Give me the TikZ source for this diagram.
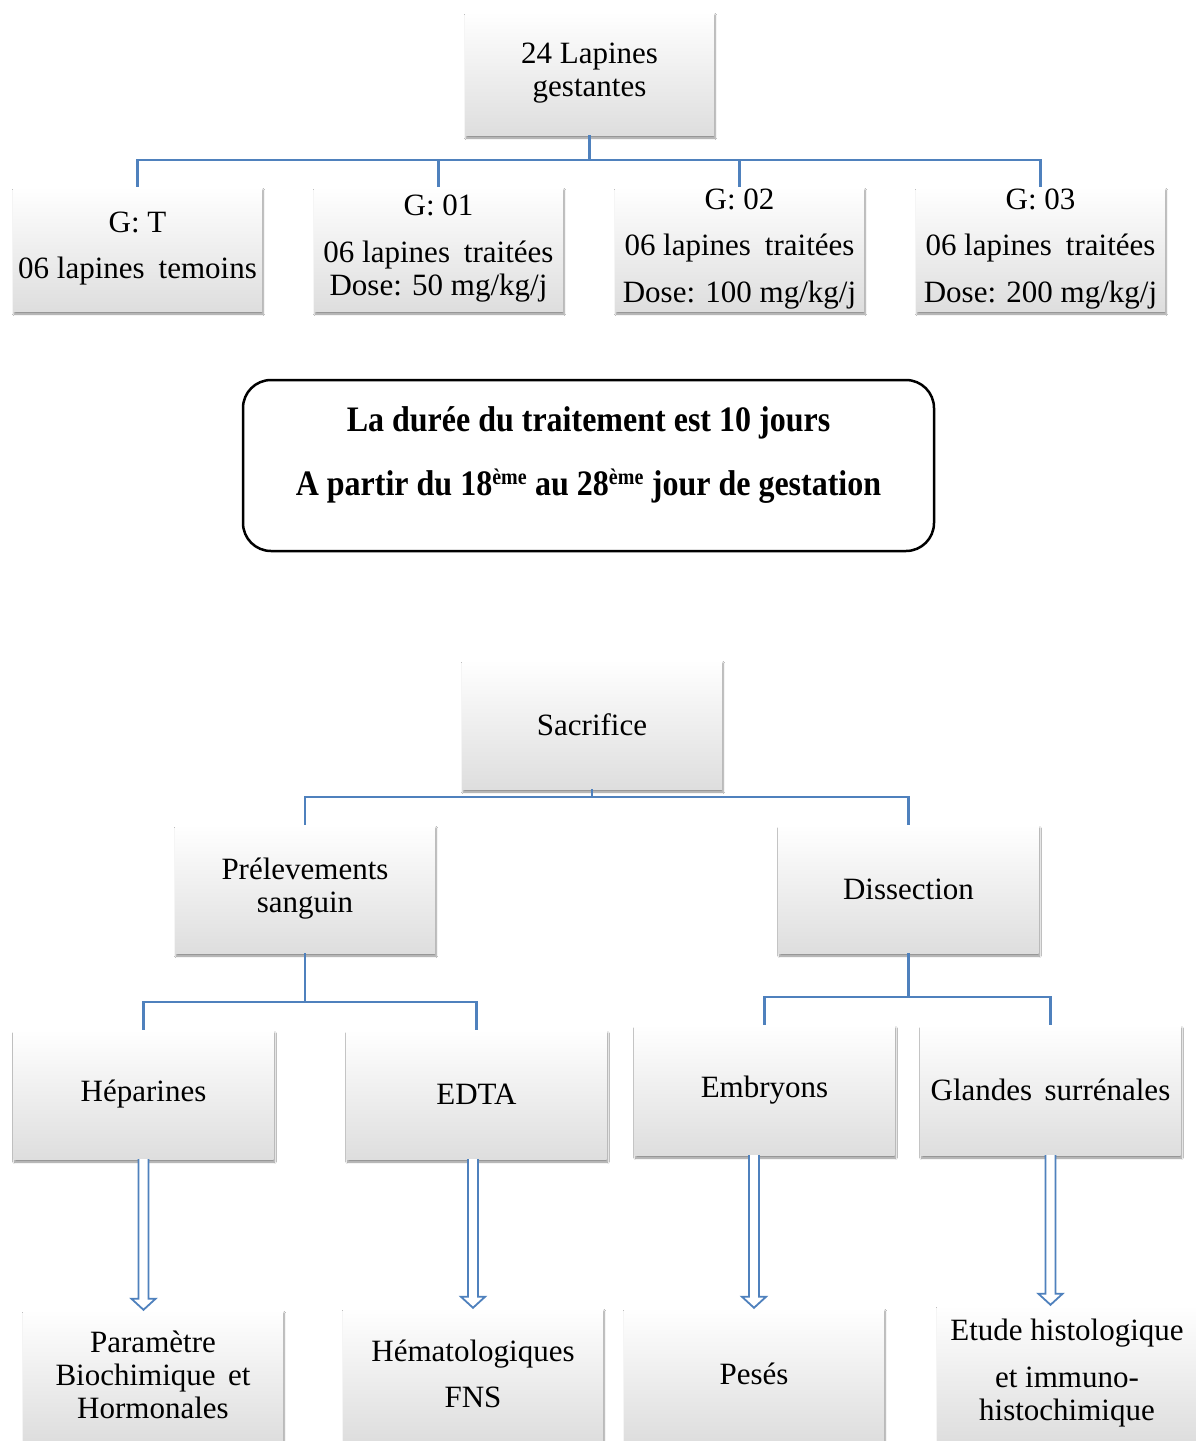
\documentclass[tikz,border=0pt]{standalone}
\usepackage{fontspec}
\usepackage{graphicx}
\setmainfont{Liberation Serif}
\usetikzlibrary{shadows.blur,calc}
\definecolor{lnblue}{RGB}{79,129,189}
\tikzset{
  gbox/.style={minimum width=249pt, minimum height=124pt, inner sep=0pt, align=center,
    top color=white, bottom color=black!13,
    blur shadow={shadow xshift=1pt, shadow yshift=-3pt, shadow blur steps=6, shadow opacity=45},
    font=\fontsize{31}{33}\selectfont},
  wbox/.style={gbox, minimum width=260pt, minimum height=129pt},
  conn/.style={draw=lnblue, line width=2.5pt},
  blockarrow/.style={draw=lnblue, fill=white, line width=1.8pt, line join=miter},
  roundbox/.style={draw=black, line width=2.5pt, rounded corners=28pt, minimum width=691pt, minimum height=171pt},
  boldtext/.style={align=center, inner sep=0pt, font=\fontsize{32}{64}\selectfont\bfseries},
}
% #1 start point (top), #2 tip point (bottom), same x
\newcommand\mybluearrow[2]{%
  \draw[blockarrow] ($#1+(-5,0)$) -- ($#2+(-5,-11)$) -- ++(-7,0) -- #2
    -- ++(12,-11) -- ++(-7,0) -- ($#1+(5,0)$);}
\begin{document}
\begin{tikzpicture}[x=1pt,y=-1pt]
\useasboundingbox[fill=white] (0,0) rectangle (1196,1441);

% top part
\node[gbox, minimum height=123pt] (top) at (589.5,73.5) {24 Lapines\\gestantes};
\node[gbox] (gT)  at (137.5,249) {G: T\\[13pt]06 lapines\hspace{0.45em}temoins};
\node[gbox] (g01) at (438.5,249) {G: 01\\[14pt]06 lapines\hspace{0.45em}traitées\\Dose: 50 mg/kg/j};
\node[gbox] (g02) at (739.5,249) {G: 02\\[13pt]06 lapines\hspace{0.45em}traitées\\[14pt]Dose: 100 mg/kg/j};
\node[gbox] (g03) at (1040.5,249) {G: 03\\[13pt]06 lapines\hspace{0.45em}traitées\\[14pt]Dose: 200 mg/kg/j};

\coordinate (tj) at (589.5,160);
\draw[conn] (top.south) -- (tj);
\draw[conn] (gT.north) |- (tj) -| (g03.north);
\draw[conn] (g01.north) -- (g01.north |- tj);
\draw[conn] (g02.north) -- (g02.north |- tj);

% duration box
\node[roundbox] (dur) at (588.5,465.5) {};
\node[boldtext, yshift=11pt] (durtxt) at (dur.center)
  {\scalebox{1}[1.12]{La durée du traitement est 10 jours}\\
   \scalebox{1}[1.12]{A partir du 18\textsuperscript{\fontsize{20}{20}\selectfont ème} au 28\textsuperscript{\fontsize{20}{20}\selectfont ème} jour de gestation}};

% bottom part
\node[wbox] (sac) at (592,724.5) {Sacrifice};
\node[wbox, minimum height=128pt] (prel) at (305,889) {Prélevements\\sanguin};
\node[wbox, minimum height=128pt] (dis) at (908.5,889) {Dissection};

\coordinate (sj) at (592,797);
\draw[conn] (sac.south) -- (sj);
\draw[conn] (prel.north) |- (sj) -| (dis.north);

\node[wbox] (hep)  at (143.5,1094.5) {Héparines};
\node[wbox] (edta) at (476.5,1094.5) {EDTA};
\node[wbox, minimum height=130pt] (emb)  at (764.5,1090) {Embryons};
\node[wbox, minimum height=130pt] (gla)  at (1050.5,1090) {Glandes\hspace{0.4em}surrénales};

\coordinate (pj) at (305,1002);
\draw[conn] (prel.south) -- (pj);
\draw[conn] (hep.north) |- (pj) -| (edta.north);
\coordinate (dj) at (908.5,997);
\draw[conn] (dis.south) -- (dj);
\draw[conn] (emb.north) |- (dj) -| (gla.north);

\node[wbox, minimum height=130pt] (par) at (153,1375) {Paramètre\\Biochimique\hspace{0.4em}et\\Hormonales};
\node[wbox, minimum height=132pt] (hem) at (473,1374) {Hématologiques\\[13pt]FNS};
\node[wbox, minimum height=132pt] (pes) at (754,1374) {Pesés};
\node[wbox, minimum height=136pt] (etu) at (1067,1373) {Etude histologique\\[14pt]et immuno-\\histochimique};

\mybluearrow{(hep.south)}{(hep.south |- par.north)}
\mybluearrow{(hem.north |- edta.south)}{(hem.north)}
\mybluearrow{(pes.north |- emb.south)}{(pes.north)}
\mybluearrow{(gla.south)}{(gla.south |- etu.north)}
\end{tikzpicture}
\end{document}
